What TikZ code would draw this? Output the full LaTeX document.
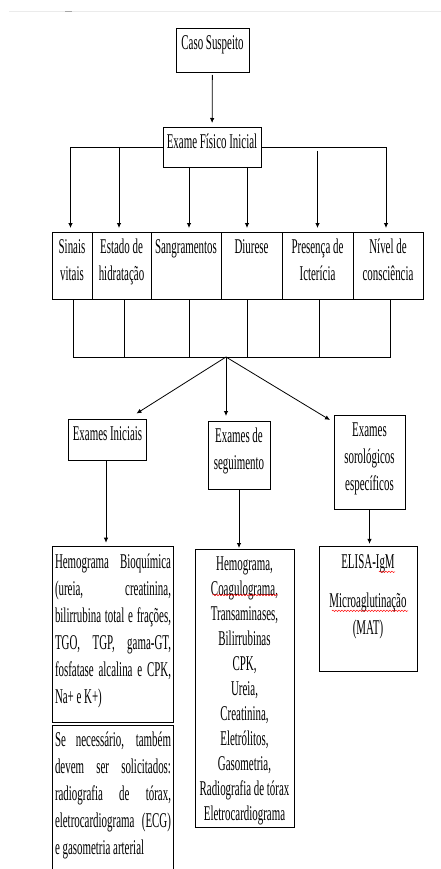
\documentclass[tikz,border=0pt]{standalone}
\usepackage{fontspec}
\setmainfont{Liberation Serif}[FakeStretch=0.52]
\usetikzlibrary{positioning,arrows.meta,decorations.pathmorphing}
% text set at the top of a box of fixed size
\newcommand{\inbox}[4][\centering]{\parbox[c][#3][t]{#2}{#1\vspace*{2.5pt}\strut #4}}
\tikzset{
    every node/.style={font=\fontsize{21}{27}\selectfont},
    box/.style={draw, line width=0.9pt, inner xsep=2.5pt, inner ysep=0pt, outer sep=0pt},
    line/.style={line width=0.8pt},
    arrow/.style={-{Latex[length=5pt,width=4.5pt]}, line width=0.8pt, shorten >=4pt},
    spellwave/.style={red, line width=0.5pt, decorate, decoration={snake, amplitude=0.7pt, segment length=3pt}},
}
\begin{document}
\begin{tikzpicture}[x=1pt, y=-1pt]
   \useasboundingbox (0,0) rectangle (441,869);
   \fill[white] (0,0) rectangle (441,869);
% faint page edge at the top
   \draw[black!8, line width=0.8pt] (9,11.5) -- (441,11.5);
   \draw[black!35, line width=1.2pt] (65,11.5) -- (72,11.5);
% first two boxes
   \node[box] (caso) at (212.5,50) {\inbox{68pt}{44pt}{Caso Suspeito}};
   \node[box] (exame) at (212,147) {\inbox{93pt}{40pt}{Exame Físico Inicial}};
   \draw[arrow, shorten <=3pt] (caso) -- (exame);
% row of six cells side by side
   \node[box] (sinais) at (72,265.5) {\inbox{35pt}{67pt}{Sinais\\ vitais}};
   \node[box, right=0pt of sinais] (estado) {\inbox{54pt}{67pt}{Estado de\\ hidratação}};
   \node[box, right=0pt of estado] (sang) {\inbox{65pt}{67pt}{Sangramentos}};
   \node[box, right=0pt of sang] (diurese) {\inbox{56pt}{67pt}{Diurese}};
   \node[box, right=0pt of diurese] (presenca) {\inbox{66pt}{67pt}{Presença de\\ Icterícia}};
   \node[box, right=0pt of presenca] (nivel) {\inbox{65pt}{67pt}{Nível de\\ consciência}};
   \draw[arrow] (exame.west) -| ([xshift=-1.5pt]sinais.north);
   \draw[arrow] ([xshift=-2.5pt]estado.north |- exame.west) -- ([xshift=-2.5pt]estado.north);
   \draw[arrow] ([xshift=3pt]sang.north |- exame.south) -- ([xshift=3pt]sang.north);
   \draw[arrow] ([xshift=-4.5pt]diurese.north |- exame.south) -- ([xshift=-4.5pt]diurese.north);
   \draw[arrow] (presenca.north |- exame.east) ++(0,4) -- (presenca.north);
   \draw[arrow] (exame.east) -| ([xshift=-2pt]nivel.north);
% lines gathered below the row
   \coordinate (join) at (226,357);
   \draw[line] ([xshift=1pt]sinais.south) |- ([xshift=2pt]nivel.south |- join) -- ([xshift=2pt]nivel.south);
   \foreach \c/\dx in {estado/2.5, sang/3, diurese/-4.5, presenca/1.5}
      \draw[line] ([xshift=\dx pt]\c.south) -- ([xshift=\dx pt]\c.south |- join);
% the three kinds of exams
   \node[box] (iniciais) at (107.5,440) {\inbox{73pt}{41pt}{Exames Iniciais}};
   \node[box] (seguim) at (239,455) {\inbox{57pt}{68pt}{Exames de\\ seguimento}};
   \node[box] (sorol) at (369.5,462) {\inbox{66pt}{94pt}{Exames\\ sorológicos\\ específicos}};
   \draw[arrow, shorten >=0pt] (join) -- ([shift={(-10,-6)}]iniciais.north east);
   \draw[arrow, shorten >=0pt] (join) -- ([shift={(-13,-5)}]seguim.north);
   \draw[arrow, shorten >=0pt] (join) -- ([shift={(-4,5)}]sorol.north west);
% contents of each kind
   \node[box] (hemo) at (113,634.7) {\inbox[\relax]{116pt}{176pt}{Hemograma Bioquímica\linebreak (ureia, creatinina,\linebreak bilirrubina total e frações,\linebreak TGO, TGP, gama-GT,\linebreak fosfatase alcalina e CPK,\linebreak Na+ e K+)}};
   \node[box] (senec) at (113,812) {\inbox[\relax]{116pt}{174pt}{Se necessário, também\linebreak devem ser solicitados:\linebreak radiografia de tórax,\linebreak eletrocardiograma (ECG)\linebreak e gasometria arterial}};
   \node[box] (segcont) at (244.5,688) {\inbox{94pt}{278pt}{\fontsize{21}{25}\selectfont Hemograma,\\ Coagulograma,\\ Transaminases,\\ Bilirrubinas\\ CPK,\\ Ureia,\\ Creatinina,\\ Eletrólitos,\\ Gasometria,\\ Radiografia de tórax\\ Eletrocardiograma}};
   \node[box] (elisa) at (368,609.3) {\inbox{93pt}{125pt}{ELISA-IgM\\[12pt] Microaglutinação\\ (MAT)}};
   \draw[arrow] ([xshift=-1.5pt]iniciais.south) -- ([xshift=-1.5pt]iniciais.south |- hemo.north);
   \draw[arrow, shorten >=1pt] (seguim.south) -- (seguim.south |- segcont.north);
   \draw[arrow, shorten >=3pt] (sorol.south) -- (sorol.south |- elisa.north);
% spell-check marks under three words
   \draw[spellwave] ([shift={(-32,46)}]segcont.north) -- ++(65,0);
   \draw[spellwave] ([shift={(11,25)}]elisa.north) -- ++(16,0);
   \draw[spellwave] ([shift={(-36,64)}]elisa.north) -- ++(76,0);
\end{tikzpicture}
\end{document}
